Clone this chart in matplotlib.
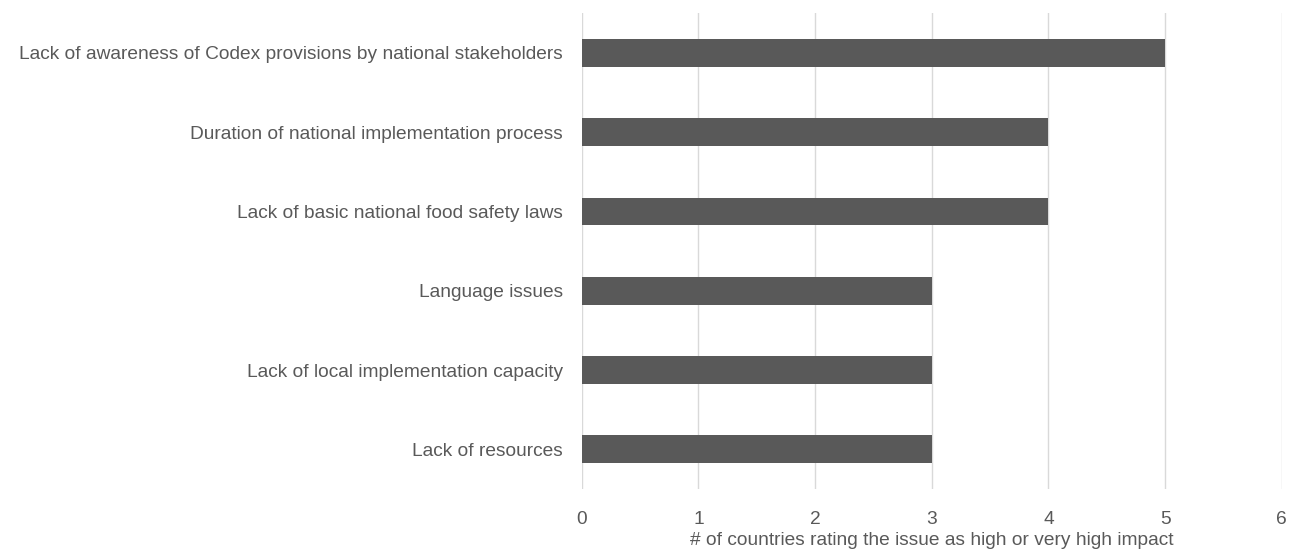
import matplotlib.pyplot as plt

# Dados do gráfico (de baixo para cima)
categorias = [
    "Lack of resources",
    "Lack of local implementation capacity",
    "Language issues",
    "Lack of basic national food safety laws",
    "Duration of national implementation process",
    "Lack of awareness of Codex provisions by national stakeholders",
]
valores = [3, 3, 3, 4, 4, 5]
ticks_x = [0, 1, 2, 3, 4, 5, 6]

cor_texto = '#595959'
plt.rcParams['font.family'] = ['Liberation Sans', 'DejaVu Sans']

fig = plt.figure(figsize=(12.9, 5.51), dpi=100)
ax = fig.add_axes([0.451, 0.1125, 0.5426, 0.8635])

posicoes = range(len(categorias))
ax.barh(posicoes, valores, height=0.35, color='#595959', zorder=3)

ax.set_xlim(0, 6)
ax.set_ylim(-0.5, len(categorias) - 0.5)
ax.set_xticks(ticks_x)
ax.set_yticks(list(posicoes))
ax.set_yticklabels(categorias)
ax.grid(axis='x', color='#d9d9d9', linewidth=1, zorder=0)

for s in ax.spines.values():
    s.set_visible(False)
ax.tick_params(axis='both', length=0, labelsize=13.8, colors=cor_texto)
ax.tick_params(axis='y', pad=13.5)
ax.tick_params(axis='x', pad=16)
ax.set_xlabel("# of countries rating the issue as high or very high impact",
              fontsize=13.8, color=cor_texto, labelpad=3)

fig.savefig('out.png', dpi=100)
